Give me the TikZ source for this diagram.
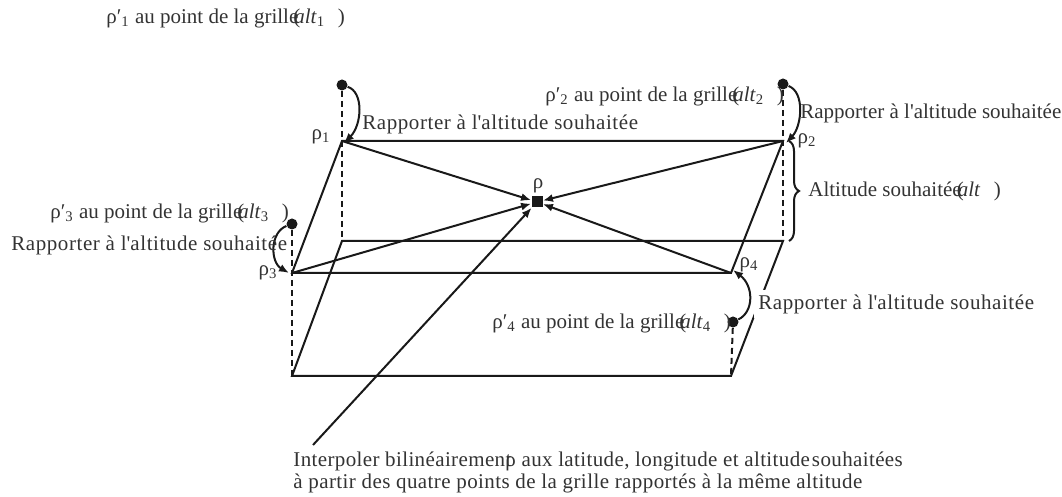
\documentclass[tikz,border=0pt]{standalone}
\usepackage{fontspec}
\setmainfont{Liberation Serif}
\usetikzlibrary{arrows.meta,decorations.pathreplacing}
\newcommand{\altpar}[1]{\kern-2.5pt(\kern-3pt\textit{alt}\textsubscript{#1}\hspace{0.6em})}
\newcommand{\gridlab}[1]{ρ′\textsubscript{#1} au point de la grille\altpar{#1}}
\newcommand{\rapptext}{Rapporter à l\textquotesingle altitude souhaitée}
\newcommand{\rapp}{{\addfontfeature{LetterSpace=2.7}\rapptext}}
\tikzset{
  edge/.style={line width=1pt,draw=black!90},
  dashline/.style={line width=1pt,draw=black!90,dash pattern=on 3pt off 2pt},
  arr/.style={line width=1pt,draw=black!90,-{Latex[length=5pt,width=4pt]}},
  lbl/.style={inner sep=0pt,text=black!80,font=\fontsize{10.5}{11}\selectfont},
  dot/.style={circle,fill=black!90,inner sep=0pt,minimum size=5.5pt},
}
\begin{document}
\begin{tikzpicture}[x=0.5pt,y=-0.5pt]
\path[use as bounding box] (0,0) rectangle (1062,497);
% corners
\coordinate (P1) at (342,141);
\coordinate (P2) at (783,141);
\coordinate (P3) at (292,273);
\coordinate (P4) at (731,273);
\coordinate (B1) at (342,241);
\coordinate (B2) at (783,241);
\coordinate (B3) at (292,376);
\coordinate (B4) at (731,376);
\node[dot] (D1) at (342,85) {};
\node[dot] (D2) at (783,84) {};
\node[dot] (D3) at (292,224) {};
\node[dot] (D4) at (733,322) {};
\node[fill=black!90,inner sep=0pt,minimum size=5.5pt] (C) at (537,202) {};
\coordinate (L0) at (313,445);
% faces
\draw[edge] (P1) -- (P2) -- (P4) -- (P3) -- cycle;
\draw[edge] (B1) -- (B2) -- (B4) -- (B3) -- cycle;
% dashed verticals
\draw[dashline] (D1) -- (B1);
\draw[dashline] (D2) -- (B2);
\draw[dashline] (D3) -- (B3);
\draw[dashline] (D4) -- (B4);
% arrows to centre
\draw[arr] (P1) -- (C);
\draw[arr] (P2) -- (C);
\draw[arr] (P3) -- (C);
\draw[arr] (P4) -- (C);
\draw[arr] (L0) -- (C);
% curved arrows
\draw[arr] (D1) .. controls (364,92) and (362,125) .. ([xshift=1pt,yshift=-1pt]P1);
\draw[arr] (D2) .. controls (805,92) and (802,126) .. ([xshift=1.5pt,yshift=-1pt]P2);
\draw[arr] (D3) .. controls (270,232) and (270,262) .. ([xshift=-1.5pt]P3);
\draw[arr] (D4) .. controls (754,312) and (754,286) .. ([xshift=1pt,yshift=1.5pt]P4);
% brace
\draw[edge,decorate,decoration={brace,amplitude=5pt}] (789,141) -- (789,241);
\node[lbl,anchor=west] (alt) at (808,191) {Altitude souhaitée\altpar{}};
% rho labels
\node[lbl] (r1) at (321,137) {ρ\textsubscript{1}};
\node[lbl] (r2) at (807,141) {ρ\textsubscript{2}};
\node[lbl] (r3) at (268,273) {ρ\textsubscript{3}};
\node[lbl] (r4) at (749,265) {ρ\textsubscript{4}};
\node[lbl] (rc) at (538,186) {ρ};
% grid labels
\node[lbl,anchor=west] (g1) at (106,18) {\gridlab{1}};
\node[lbl,anchor=west] (g2) at (545,96) {\gridlab{2}};
\node[lbl,anchor=west] (g3) at (50,213) {\gridlab{3}};
\node[lbl,anchor=west] (g4) at (492,323) {\gridlab{4}};
% rapporter labels
\node[lbl,anchor=west] (a1) at (362,124) {\rapp};
\node[lbl,anchor=west] (a2) at (800,113) {\rapptext};
\node[lbl,anchor=west] (a3) at (11,245) {\rapp};
\node[lbl,anchor=west,fill=white,inner sep=2pt] (a4) at (754,304) {\rapp};
% bottom text
\node[lbl,anchor=north west,align=left] (bt) at (293,452) {\addfontfeature{LetterSpace=1.8}Interpoler bilinéairement\kern-3pt ρ aux latitude, longitude et altitude\kern1pt souhaitées\\\addfontfeature{LetterSpace=2}à partir des quatre points de la grille rapportés à la même altitude};
\end{tikzpicture}
\end{document}
